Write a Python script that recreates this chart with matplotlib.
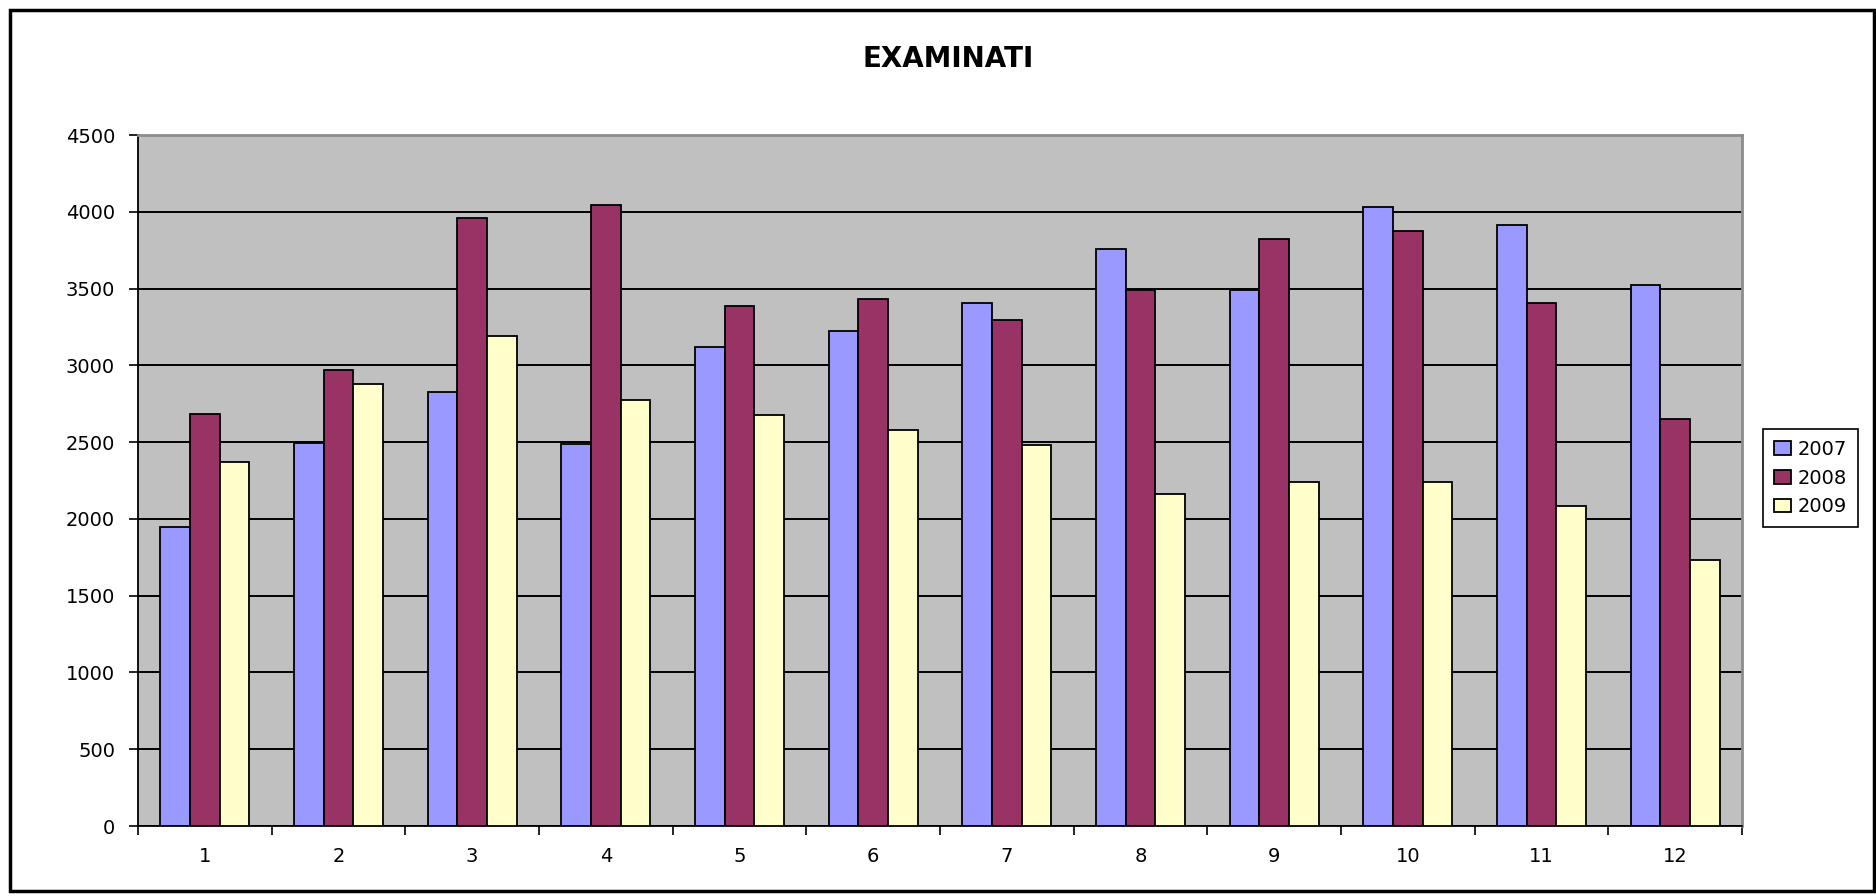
import numpy as np
import matplotlib
matplotlib.use('Agg')
import matplotlib.pyplot as plt
from matplotlib.patches import Rectangle

plt.rcParams['font.family'] = ['DejaVu Sans']

# --- data ---
months = ['1', '2', '3', '4', '5', '6', '7', '8', '9', '10', '11', '12']
years = ['2007', '2008', '2009']
v2007 = [1946, 2495, 2829, 2486, 3118, 3224, 3409, 3759, 3490, 4028, 3915, 3521]
v2008 = [2681, 2972, 3957, 4041, 3386, 3429, 3295, 3490, 3820, 3872, 3406, 2653]
v2009 = [2373, 2881, 3191, 2775, 2677, 2582, 2480, 2165, 2237, 2237, 2083, 1733]
colors = ['#9999FF', '#993366', '#FFFFCC']


def main():
    fig = plt.figure(figsize=(18.76, 8.96), dpi=100)
    ax = fig.add_axes([138 / 1876, 70 / 896, 1604 / 1876, 691 / 896])
    ax.set_facecolor('#C0C0C0')

    x = np.arange(len(months))
    w = 1 / 4.5
    for i, (vals, c, lab) in enumerate(zip([v2007, v2008, v2009], colors, years)):
        ax.bar(x + (i - 1) * w, vals, width=w, color=c, edgecolor='black',
               linewidth=1.3, label=lab, zorder=3)

    ax.set_xlim(-0.5, len(months) - 0.5)
    ax.set_ylim(0, 4500)
    ax.set_yticks(np.arange(0, 4501, 500))
    ax.yaxis.grid(True, color='black', lw=1.4, zorder=1)
    ax.set_axisbelow(True)

    # category ticks on the boundaries, labels at the centres
    ax.set_xticks(np.arange(-0.5, len(months), 1))
    ax.set_xticklabels([])
    ax.set_xticks(x, minor=True)
    ax.set_xticklabels(months, minor=True)
    ax.tick_params(axis='x', which='major', length=6.5, width=1.2, direction='out')
    ax.tick_params(axis='x', which='minor', length=0, pad=15, labelsize=14)
    ax.tick_params(axis='y', length=6.5, width=1.2, direction='out', pad=10,
                   labelsize=14)

    for s in ['left', 'bottom']:
        ax.spines[s].set_color('black')
        ax.spines[s].set_linewidth(1.3)
    for s in ['top', 'right']:
        ax.spines[s].set_color('#8C8C8C')
        ax.spines[s].set_linewidth(2)

    fig.text(948 / 1876, 1 - 59 / 896, 'EXAMINATI', ha='center', va='center',
             fontsize=20, fontweight='bold')

    leg = fig.legend(loc='center left', bbox_to_anchor=(1763 / 1876, 1 - 478 / 896),
                     fontsize=14, frameon=True, fancybox=False, framealpha=1,
                     edgecolor='black', handlelength=0.9, handleheight=0.7,
                     handletextpad=0.35, labelspacing=0.5, borderpad=0.55,
                     borderaxespad=0)
    leg.get_frame().set_linewidth(1.2)

    # outer chart border
    fig.patches.append(Rectangle((10 / 1876, 5 / 896), 1864 / 1876, 881 / 896,
                                 transform=fig.transFigure, fill=False,
                                 edgecolor='black', linewidth=2.5))

    fig.savefig('out.png', dpi=100)


if __name__ == '__main__':
    main()
